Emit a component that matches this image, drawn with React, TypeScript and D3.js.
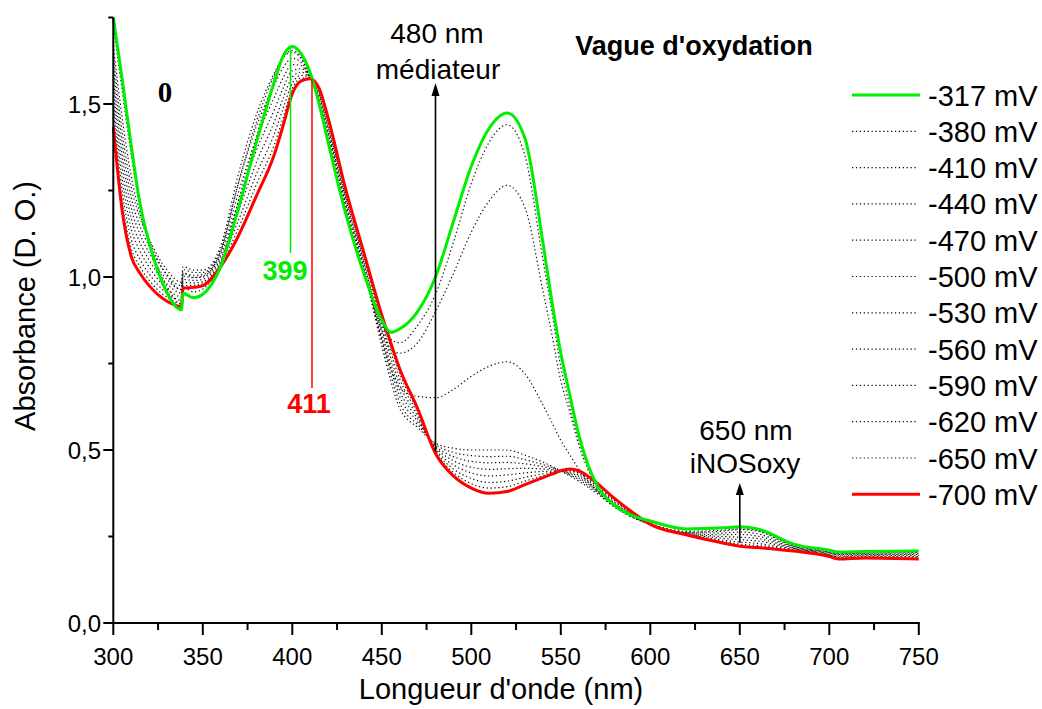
import React from "react";
import * as d3 from "d3";

// Wavelength grid (nm)
const wavelengths = [300, 305, 310, 315, 320, 330, 338, 339, 345, 350, 360, 370, 380, 390, 395, 400, 405, 410, 415, 420, 430, 440, 450, 455, 460, 470, 480, 490, 500, 510, 520, 530, 540, 545, 550, 555, 560, 565, 570, 580, 590, 600, 620, 640, 650, 660, 680, 700, 705, 720, 750];

const s317 = [1.75, 1.57, 1.38, 1.21, 1.10, 0.955, 0.905, 0.952, 0.94, 0.95, 1.03, 1.20, 1.39, 1.565, 1.64, 1.666, 1.645, 1.59, 1.50, 1.39, 1.18, 1.01, 0.875, 0.84, 0.85, 0.90, 1.00, 1.16, 1.32, 1.43, 1.474, 1.40, 1.10, 0.93, 0.78, 0.66, 0.545, 0.46, 0.40, 0.34, 0.31, 0.295, 0.272, 0.275, 0.278, 0.272, 0.228, 0.21, 0.205, 0.207, 0.208];
const s380 = [1.745, 1.565, 1.376, 1.209, 1.10, 0.962, 0.908, 0.955, 0.943, 0.952, 1.032, 1.204, 1.393, 1.566, 1.64, 1.665, 1.644, 1.589, 1.50, 1.391, 1.181, 1.01, 0.865, 0.82, 0.81, 0.86, 0.95, 1.10, 1.27, 1.39, 1.44, 1.35, 1.05, 0.90, 0.74, 0.63, 0.53, 0.455, 0.40, 0.34, 0.31, 0.294, 0.271, 0.274, 0.277, 0.271, 0.227, 0.209, 0.204, 0.206, 0.207];
const s410 = [1.726, 1.538, 1.354, 1.201, 1.102, 0.973, 0.922, 0.969, 0.957, 0.965, 1.043, 1.222, 1.407, 1.57, 1.639, 1.663, 1.642, 1.587, 1.502, 1.394, 1.184, 1.012, 0.845, 0.79, 0.78, 0.81, 0.90, 1.01, 1.13, 1.22, 1.265, 1.20, 0.96, 0.835, 0.70, 0.61, 0.515, 0.446, 0.398, 0.339, 0.309, 0.293, 0.27, 0.273, 0.276, 0.27, 0.227, 0.209, 0.204, 0.206, 0.207];
const s440 = [1.669, 1.459, 1.291, 1.18, 1.107, 1.004, 0.964, 1.01, 0.999, 1.002, 1.074, 1.274, 1.449, 1.584, 1.636, 1.654, 1.634, 1.579, 1.507, 1.405, 1.195, 1.017, 0.82, 0.736, 0.68, 0.655, 0.651, 0.675, 0.713, 0.742, 0.755, 0.72, 0.63, 0.58, 0.528, 0.486, 0.446, 0.41, 0.383, 0.336, 0.306, 0.288, 0.265, 0.268, 0.272, 0.267, 0.224, 0.206, 0.201, 0.203, 0.204];
const s470 = [1.64, 1.42, 1.26, 1.17, 1.11, 1.02, 0.985, 1.03, 1.02, 1.02, 1.09, 1.30, 1.47, 1.59, 1.635, 1.65, 1.63, 1.575, 1.51, 1.41, 1.20, 1.02, 0.80, 0.70, 0.62, 0.565, 0.52, 0.505, 0.50, 0.50, 0.50, 0.485, 0.465, 0.453, 0.44, 0.425, 0.41, 0.393, 0.375, 0.335, 0.305, 0.285, 0.262, 0.265, 0.27, 0.265, 0.222, 0.205, 0.20, 0.202, 0.203];
const s500 = [1.609, 1.386, 1.23, 1.146, 1.09, 1.007, 0.975, 1.021, 1.013, 1.013, 1.081, 1.273, 1.436, 1.555, 1.606, 1.632, 1.62, 1.575, 1.515, 1.418, 1.208, 1.028, 0.814, 0.717, 0.637, 0.573, 0.516, 0.493, 0.484, 0.481, 0.482, 0.472, 0.458, 0.45, 0.44, 0.428, 0.415, 0.398, 0.379, 0.339, 0.307, 0.285, 0.261, 0.26, 0.263, 0.258, 0.22, 0.203, 0.198, 0.2, 0.2];
const s530 = [1.578, 1.351, 1.20, 1.122, 1.07, 0.993, 0.964, 1.011, 1.005, 1.007, 1.072, 1.246, 1.401, 1.52, 1.577, 1.614, 1.611, 1.574, 1.52, 1.425, 1.215, 1.035, 0.827, 0.733, 0.655, 0.582, 0.511, 0.481, 0.467, 0.463, 0.464, 0.46, 0.452, 0.446, 0.44, 0.431, 0.419, 0.403, 0.383, 0.343, 0.31, 0.285, 0.26, 0.255, 0.256, 0.251, 0.218, 0.201, 0.196, 0.198, 0.198];
const s560 = [1.547, 1.317, 1.17, 1.098, 1.049, 0.98, 0.954, 1.002, 0.998, 1.0, 1.063, 1.219, 1.367, 1.484, 1.547, 1.596, 1.602, 1.574, 1.526, 1.433, 1.223, 1.043, 0.84, 0.75, 0.672, 0.59, 0.507, 0.469, 0.45, 0.444, 0.446, 0.447, 0.445, 0.443, 0.44, 0.434, 0.424, 0.407, 0.386, 0.346, 0.312, 0.285, 0.259, 0.25, 0.248, 0.244, 0.216, 0.199, 0.193, 0.196, 0.195];
const s590 = [1.516, 1.282, 1.14, 1.074, 1.029, 0.966, 0.943, 0.993, 0.99, 0.993, 1.054, 1.192, 1.332, 1.449, 1.518, 1.578, 1.592, 1.574, 1.531, 1.44, 1.23, 1.05, 0.854, 0.766, 0.689, 0.598, 0.502, 0.457, 0.434, 0.425, 0.428, 0.434, 0.438, 0.439, 0.44, 0.437, 0.428, 0.412, 0.39, 0.35, 0.314, 0.285, 0.258, 0.245, 0.241, 0.237, 0.214, 0.197, 0.191, 0.194, 0.192];
const s620 = [1.486, 1.248, 1.11, 1.05, 1.009, 0.953, 0.933, 0.984, 0.983, 0.986, 1.045, 1.165, 1.298, 1.414, 1.489, 1.56, 1.583, 1.574, 1.536, 1.448, 1.238, 1.058, 0.868, 0.783, 0.706, 0.606, 0.498, 0.445, 0.418, 0.406, 0.41, 0.421, 0.431, 0.436, 0.44, 0.44, 0.433, 0.417, 0.394, 0.354, 0.316, 0.285, 0.257, 0.24, 0.234, 0.23, 0.212, 0.195, 0.189, 0.192, 0.19];
const s650 = [1.459, 1.218, 1.084, 1.029, 0.991, 0.941, 0.923, 0.975, 0.976, 0.98, 1.037, 1.142, 1.268, 1.383, 1.463, 1.544, 1.575, 1.573, 1.541, 1.454, 1.244, 1.064, 0.879, 0.797, 0.721, 0.613, 0.494, 0.435, 0.403, 0.39, 0.394, 0.41, 0.425, 0.433, 0.44, 0.443, 0.436, 0.421, 0.397, 0.357, 0.318, 0.285, 0.256, 0.236, 0.228, 0.224, 0.21, 0.194, 0.187, 0.19, 0.187];
const s700 = [1.434, 1.19, 1.06, 1.01, 0.975, 0.93, 0.915, 0.968, 0.97, 0.975, 1.03, 1.12, 1.235, 1.355, 1.44, 1.53, 1.567, 1.573, 1.545, 1.46, 1.25, 1.07, 0.89, 0.81, 0.735, 0.62, 0.49, 0.425, 0.39, 0.375, 0.38, 0.40, 0.42, 0.43, 0.44, 0.445, 0.44, 0.425, 0.405, 0.36, 0.32, 0.285, 0.255, 0.232, 0.222, 0.218, 0.208, 0.192, 0.185, 0.188, 0.185];

const legendLabels = ["-317 mV", "-380 mV", "-410 mV", "-440 mV", "-470 mV", "-500 mV", "-530 mV", "-560 mV", "-590 mV", "-620 mV", "-650 mV", "-700 mV"];
const seriesList = [s317, s380, s410, s440, s470, s500, s530, s560, s590, s620, s650, s700];

const xMajor = [300, 350, 400, 450, 500, 550, 600, 650, 700, 750];
const xMinor = [325, 375, 425, 475, 525, 575, 625, 675, 725];
const yMajor = [0, 0.5, 1.0, 1.5];
const yLabels = ["0,0", "0,5", "1,0", "1,5"];
const yMinor = [0.25, 0.75, 1.25, 1.75];

const GREEN = "#00ee00";
const RED = "#ff0000";
const SANS = "'Liberation Sans', Arial, Helvetica, sans-serif";

export default function App() {
  const x = d3.scaleLinear().domain([300, 750]).range([113.3, 918.8]);
  const y = d3.scaleLinear().domain([0, 1.75]).range([623, 17.5]);
  const line = d3
    .line<number>()
    .x((_, i) => x(wavelengths[i]))
    .y((d) => y(d))
    .curve(d3.curveMonotoneX);

  const x0 = x(300);
  const y0 = y(0);
  const legY = (i: number) => 95 + i * 36.3;

  const dotted = seriesList.slice(1, 11);
  const gx = x(399);
  const rx = x(411);
  const ax480 = x(480);
  const ax650 = x(650);

  return (
    <svg
      width={1042}
      height={709}
      style={{ position: "absolute", left: 0, top: 0, background: "#fff" }}
      fontFamily={SANS}
    >
      <rect width={1042} height={709} fill="#fff" />
      {/* dotted series */}
      {dotted.map((s, i) => (
        <path key={i} d={line(s) || ""} fill="none" stroke="#111" strokeWidth={1.2} strokeDasharray="1.3,2.6" />
      ))}
      <path d={line(s700) || ""} fill="none" stroke={RED} strokeWidth={3} strokeLinejoin="round" />
      <path d={line(s317) || ""} fill="none" stroke={GREEN} strokeWidth={3} strokeLinejoin="round" />

      {/* peak markers */}
      <line x1={gx} x2={gx} y1={y(1.666)} y2={253} stroke={GREEN} strokeWidth={1.5} />
      <line x1={rx} x2={rx} y1={y(1.573)} y2={388} stroke={RED} strokeWidth={1.5} />
      <text x={285} y={280} fontSize={27} fontWeight="bold" fill={GREEN} textAnchor="middle">399</text>
      <text x={309} y={413} fontSize={27} fontWeight="bold" fill={RED} textAnchor="middle">411</text>

      {/* arrows */}
      <line x1={ax480} x2={ax480} y1={y(0.49) - 2} y2={92} stroke="#000" strokeWidth={1.6} />
      <path d={`M${ax480},83 L${ax480 - 4},96 L${ax480 + 4},96 Z`} fill="#000" />
      <line x1={ax650} x2={ax650} y1={y(0.232)} y2={492} stroke="#000" strokeWidth={1.6} />
      <path d={`M${ax650},483 L${ax650 - 4},495 L${ax650 + 4},495 Z`} fill="#000" />

      <text x={437} y={43} fontSize={28} textAnchor="middle">480 nm</text>
      <text x={438} y={79} fontSize={28} textAnchor="middle">médiateur</text>
      <text x={746} y={440} fontSize={28} textAnchor="middle">650 nm</text>
      <text x={745} y={473} fontSize={28} textAnchor="middle">iNOSoxy</text>
      <text x={694} y={55} fontSize={27} fontWeight="bold" textAnchor="middle">Vague d'oxydation</text>
      <text x={165} y={102} fontSize={29} fontWeight="bold" fontFamily="'Liberation Serif', 'Times New Roman', serif" textAnchor="middle">0</text>

      {/* axes */}
      <line x1={x0} x2={x0} y1={y(1.75)} y2={y0 + 1} stroke="#000" strokeWidth={2} />
      <line x1={x0 - 1} x2={x(750) + 1} y1={y0} y2={y0} stroke="#000" strokeWidth={2} />
      {yMajor.map((v, i) => (
        <g key={"ym" + i}>
          <line x1={x0 - 10} x2={x0} y1={y(v)} y2={y(v)} stroke="#000" strokeWidth={2} />
          <text x={101} y={y(v) + 8.5} fontSize={24} textAnchor="end">{yLabels[i]}</text>
        </g>
      ))}
      {yMinor.map((v, i) => (
        <line key={"yn" + i} x1={x0 - 5} x2={x0} y1={y(v)} y2={y(v)} stroke="#000" strokeWidth={2} />
      ))}
      {xMajor.map((v, i) => (
        <g key={"xm" + i}>
          <line x1={x(v)} x2={x(v)} y1={y0} y2={y0 + 12} stroke="#000" strokeWidth={2} />
          <text x={x(v)} y={665} fontSize={24} textAnchor="middle">{v}</text>
        </g>
      ))}
      {xMinor.map((v, i) => (
        <line key={"xn" + i} x1={x(v)} x2={x(v)} y1={y0} y2={y0 + 7} stroke="#000" strokeWidth={2} />
      ))}
      <text x={501} y={699} fontSize={29} textAnchor="middle">Longueur d'onde (nm)</text>
      <text transform={`translate(35,306) rotate(-90)`} fontSize={29} textAnchor="middle">Absorbance (D. O.)</text>

      {/* legend */}
      {legendLabels.map((lab, i) => {
        const ly = legY(i);
        const solid = i === 0 || i === 11;
        return (
          <g key={"lg" + i}>
            {solid ? (
              <line x1={852} x2={920} y1={ly} y2={ly} stroke={i === 0 ? GREEN : RED} strokeWidth={3} />
            ) : (
              <line x1={852} x2={917} y1={ly} y2={ly} stroke="#111" strokeWidth={1.2} strokeDasharray="1.3,2.6" />
            )}
            <text x={928} y={ly + 10.5} fontSize={29}>{lab}</text>
          </g>
        );
      })}
    </svg>
  );
}
